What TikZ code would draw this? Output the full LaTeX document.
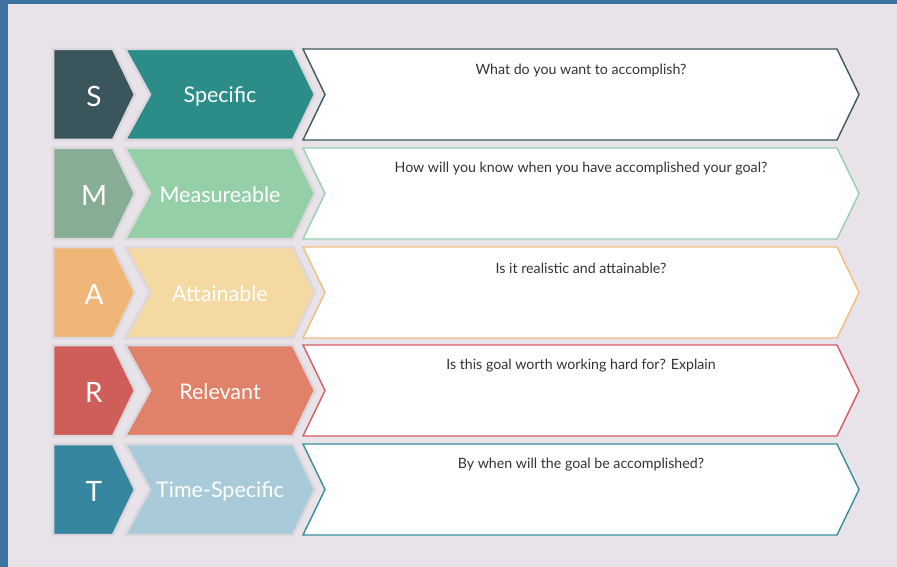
\documentclass[tikz,border=0pt]{standalone}
\usepackage{fontspec}
\setmainfont{Lato}
\usepackage{xcolor}

\definecolor{cadre}{HTML}{3E73A0}
\definecolor{fond}{HTML}{E8E2E9}
\definecolor{ombre}{HTML}{DCD7DD}
\definecolor{textgris}{HTML}{333333}
% lettre / etiquette / bord de la boite
\definecolor{sL}{HTML}{3B555C}\definecolor{sE}{HTML}{2B8C88}\definecolor{sB}{HTML}{3D5A5E}
\definecolor{mL}{HTML}{88AD95}\definecolor{mE}{HTML}{95CFA8}\definecolor{mB}{HTML}{98CFAE}
\definecolor{aL}{HTML}{F0B678}\definecolor{aE}{HTML}{F4D9A2}\definecolor{aB}{HTML}{F0BD80}
\definecolor{rL}{HTML}{CF5E5A}\definecolor{rE}{HTML}{E0826A}\definecolor{rB}{HTML}{D45C64}
\definecolor{tL}{HTML}{35869E}\definecolor{tE}{HTML}{A9CBD9}\definecolor{tB}{HTML}{3A8C9C}

\begin{document}
\begin{tikzpicture} [
  x = 1pt, y = -1pt,
  lettre/.style = {text = white, font = \fontsize{28}{28}\selectfont},
  etiquette/.style = {text = white, font = \fontsize{21.5}{22}\selectfont},
  question/.style = {text = textgris, font = \fontsize{14.2}{15}\selectfont},
  boite/.style = {fill = white, line width = 1.4pt, line join = miter},
  halo/.style = {draw = ombre, line width = 2.5pt},
]

 \useasboundingbox (0,0) rectangle (897,567);
 \fill [cadre] (0,0) rectangle (897,567);
 \fill [fond] (8,4) rectangle (897,567);

 % S
 \begin{scope}[yshift = -49pt]
  \path [halo, fill = sL] (53,0) -- (113,0) -- (135,45.5) -- (113,91) -- (53,91) -- cycle;
  \path [halo, fill = sE] (125,0) -- (293,0) -- (315,45.5) -- (293,91) -- (125,91) -- (150,45.5) -- cycle;
  \path [boite, draw = sB] (303,0) -- (837,0) -- (859,45.5) -- (837,91) -- (303,91) -- (325,45.5) -- cycle;
  \node [lettre] (lS) at (94,47) {S};
  \node [etiquette] (eS) at (220,47) {Specific};
  \node [question] (qS) at (581,21) {What do you want to accomplish?};
 \end{scope}

 % M
 \begin{scope}[yshift = -148pt]
  \path [halo, fill = mL] (53,0) -- (113,0) -- (135,45.5) -- (113,91) -- (53,91) -- cycle;
  \path [halo, fill = mE] (125,0) -- (293,0) -- (315,45.5) -- (293,91) -- (125,91) -- (150,45.5) -- cycle;
  \path [boite, draw = mB] (303,0) -- (837,0) -- (859,45.5) -- (837,91) -- (303,91) -- (325,45.5) -- cycle;
  \node [lettre] (lM) at (94,47) {M};
  \node [etiquette] (eM) at (220,47) {Measureable};
  \node [question] (qM) at (581,21) {How will you know when you have accomplished your goal?};
 \end{scope}

 % A
 \begin{scope}[yshift = -247pt]
  \path [halo, fill = aL] (53,0) -- (113,0) -- (135,45.5) -- (113,91) -- (53,91) -- cycle;
  \path [halo, fill = aE] (125,0) -- (293,0) -- (315,45.5) -- (293,91) -- (125,91) -- (150,45.5) -- cycle;
  \path [boite, draw = aB] (303,0) -- (837,0) -- (859,45.5) -- (837,91) -- (303,91) -- (325,45.5) -- cycle;
  \node [lettre] (lA) at (94,47) {A};
  \node [etiquette] (eA) at (220,47) {Attainable};
  \node [question] (qA) at (581,21) {Is it realistic and attainable?};
 \end{scope}

 % R
 \begin{scope}[yshift = -345pt]
  \path [halo, fill = rL] (53,0) -- (113,0) -- (135,45.5) -- (113,91) -- (53,91) -- cycle;
  \path [halo, fill = rE] (125,0) -- (293,0) -- (315,45.5) -- (293,91) -- (125,91) -- (150,45.5) -- cycle;
  \path [boite, draw = rB] (303,0) -- (837,0) -- (859,45.5) -- (837,91) -- (303,91) -- (325,45.5) -- cycle;
  \node [lettre] (lR) at (94,47) {R};
  \node [etiquette] (eR) at (220,47) {Relevant};
  \node [question] (qR) at (581,21) {Is this goal worth working hard for? Explain};
 \end{scope}

 % T
 \begin{scope}[yshift = -444pt]
  \path [halo, fill = tL] (53,0) -- (113,0) -- (135,45.5) -- (113,91) -- (53,91) -- cycle;
  \path [halo, fill = tE] (125,0) -- (293,0) -- (315,45.5) -- (293,91) -- (125,91) -- (150,45.5) -- cycle;
  \path [boite, draw = tB] (303,0) -- (837,0) -- (859,45.5) -- (837,91) -- (303,91) -- (325,45.5) -- cycle;
  \node [lettre] (lT) at (94,47) {T};
  \node [etiquette] (eT) at (220,47) {Time-Specific};
  \node [question] (qT) at (581,21) {By when will the goal be accomplished?};
 \end{scope}

\end{tikzpicture}
\end{document}
